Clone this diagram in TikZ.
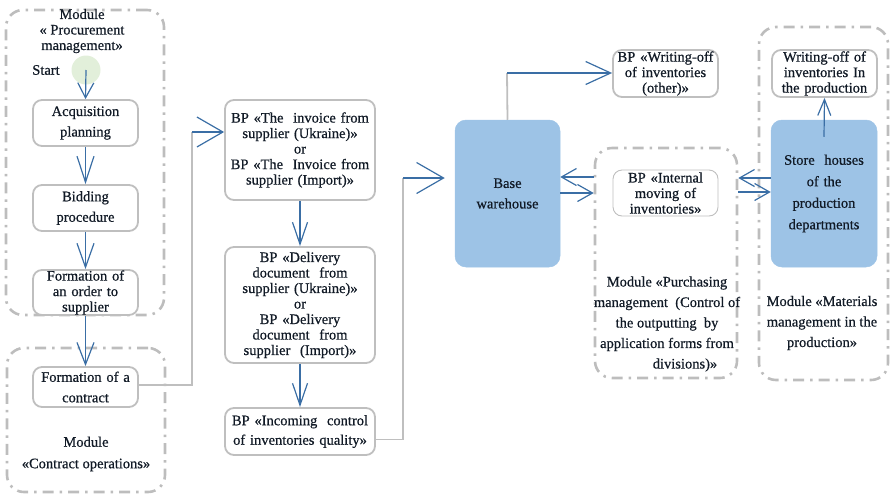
\documentclass[tikz,border=0pt]{standalone}
\usepackage{fontspec}
\setmainfont{Liberation Serif}[FakeBold=0.6]
\usetikzlibrary{arrows.meta}
\definecolor{boxgray}{HTML}{BFBFBF}
\definecolor{modgray}{HTML}{BDBDBD}
\definecolor{arrblue}{HTML}{3A6EA5}
\definecolor{wfill}{HTML}{9DC3E6}
\definecolor{txt}{HTML}{111A26}
\definecolor{startg}{HTML}{E2EFDA}
\begin{document}
\begin{tikzpicture}[x=1pt,y=-1pt,
  font=\fontsize{14.5}{15.5}\selectfont, text=txt,
  bx/.style 2 args={draw=boxgray, line width=1.8pt, rounded corners=9pt, fill=white,
    inner sep=0pt, align=center, text width=#1, minimum width=#1, minimum height=#2},
  wh/.style 2 args={draw=wfill, fill=wfill, rounded corners=11pt, line width=0.5pt,
    inner sep=0pt, align=center, text width=#1, minimum width=#1, minimum height=#2},
  mod/.style 2 args={draw=modgray, line width=2.6pt, rounded corners=17pt,
    dash pattern=on 11pt off 6pt on 2.5pt off 6pt, inner sep=0pt,
    minimum width=#1, minimum height=#2},
  lab/.style={align=center, inner sep=0pt},
  arr/.style 2 args={draw=arrblue, line width=1.2pt, -{Straight Barb[length=#1,width=#2]}},
  gl/.style={draw=boxgray, line width=1.8pt}
]
\useasboundingbox (0,0) rectangle (893,496);

% module frames
\node[mod={158pt}{305pt}] (modProc) at (85,162.5) {};
\node[mod={158pt}{144pt}] (modContr) at (86,420) {};
\node[mod={142pt}{230pt}] (modPurch) at (666,263) {};
\node[mod={129pt}{353pt}] (modMat) at (823.5,203.5) {};

% module labels
\node[lab] (procLab) at (82,31) {Module\\« Procurement\\management»};
\node[lab] (contrLab) at (86,454) {Module\\[6pt]«Contract operations»};
\node[lab] (purLab) at (667,324) {Module «Purchasing\\[5pt]management\ \ (Control of\\[5pt]the outputting\ \ by\\[5pt]application forms from\\[5pt]\hspace*{36pt}divisions)»};
\node[lab] (matLab) at (822,323) {Module «Materials\\[5pt]management in the\\[5pt]production»};

% start
\node[circle, fill=startg, minimum size=29pt, inner sep=0pt] (st) at (86,70) {};
\node[lab] (stLab) at (46,70) {Start};

% process boxes
\node[bx={105pt}{46pt}] (acq) at (85.5,123) {Acquisition\\[5pt]planning};
\node[bx={105pt}{46pt}] (bid) at (85.5,208) {Bidding\\[5pt]procedure};
\node[bx={105pt}{45pt}] (ord) at (85.5,292.5) {Formation of\\an order to\\supplier};
\node[bx={105pt}{40pt}] (con) at (85.5,387) {Formation of a\\[5pt]contract};

\node[bx={150pt}{100pt}] (inv) at (300,150) {BP «The\ \ invoice from\\supplier (Ukraine)»\\or\\BP «The\ \ Invoice from\\supplier (Import)»};
\node[bx={150pt}{116pt}] (del) at (300,305) {BP «Delivery\\document\ \ from\\supplier (Ukraine)»\\or\\BP «Delivery\\document\ \ from\\supplier\ \ (Import)»};
\node[bx={150pt}{47pt}] (inc) at (300,431.5) {BP «Incoming\ \ control\\[4pt]of inventories quality»};

\node[wh={105pt}{147pt}] (base) at (507.5,193.5) {Base\\[5pt]warehouse};
\node[wh={106pt}{147pt}] (store) at (824,193.5) {Store\ \ houses\\[6pt]of the\\[6pt]production\\[6pt]departments};

\node[bx={105pt}{47pt}] (woo) at (665.5,73.5) {BP «Writing-off\\of inventories\\(other)»};
\node[bx={105pt}{46pt}, line width=0.9pt] (intm) at (665.5,193) {BP «Internal\\moving of\\inventories»};
\node[bx={105pt}{47pt}] (wop) at (824.5,73.5) {Writing-off of\\inventories In\\the production};

% connectors left column
\draw[arr={15pt}{16pt}] (st.center) -- (acq.north);
\draw[arr={26pt}{17pt}] (acq.south) -- (bid.north);
\draw[arr={24pt}{17pt}] (bid.south) -- (ord.north);
\draw[arr={22pt}{17pt}] (ord.south) -- (con.north);

% contract -> invoice
\coordinate (c2) at (192,132);
\draw[gl] ([yshift=2pt]con.east) -| (c2);
\draw[arr={26pt}{30pt}] (c2) -- (c2 -| inv.west);

% middle column
\draw[arr={22pt}{15pt}] (inv.south) -- (del.north);
\draw[arr={22pt}{15pt}] (del.south) -- (inc.north);

% incoming -> base
\coordinate (c3) at (403,178);
\draw[gl] ([yshift=-8pt]inc.east) -| (c3);
\draw[arr={27pt}{31pt}] (c3) -- ([xshift=-10pt]c3 -| base.west);

% base -> writing-off other
\coordinate (c4) at (507,73);
\draw[gl] (base.north) -- (c4);
\draw[arr={25pt}{23pt}] (c4) -- (c4 -| woo.west);

% base <-> purchasing module
\draw[arr={15pt}{17pt}] (modPurch.west |- 0,177) -- (base.east |- 0,177);
\draw[arr={15pt}{17pt}] (base.east |- 0,193) -- (modPurch.west |- 0,193);

% purchasing module <-> store houses
\draw[arr={15pt}{17pt}] (store.west |- 0,178) -- (modPurch.east |- 0,178);
\draw[arr={15pt}{17pt}] (modPurch.east |- 0,192) -- (store.west |- 0,192);

% store -> writing-off production
\draw[arr={16pt}{13pt}] ([yshift=-17pt]store.north) -- (wop.south);
\end{tikzpicture}
\end{document}
